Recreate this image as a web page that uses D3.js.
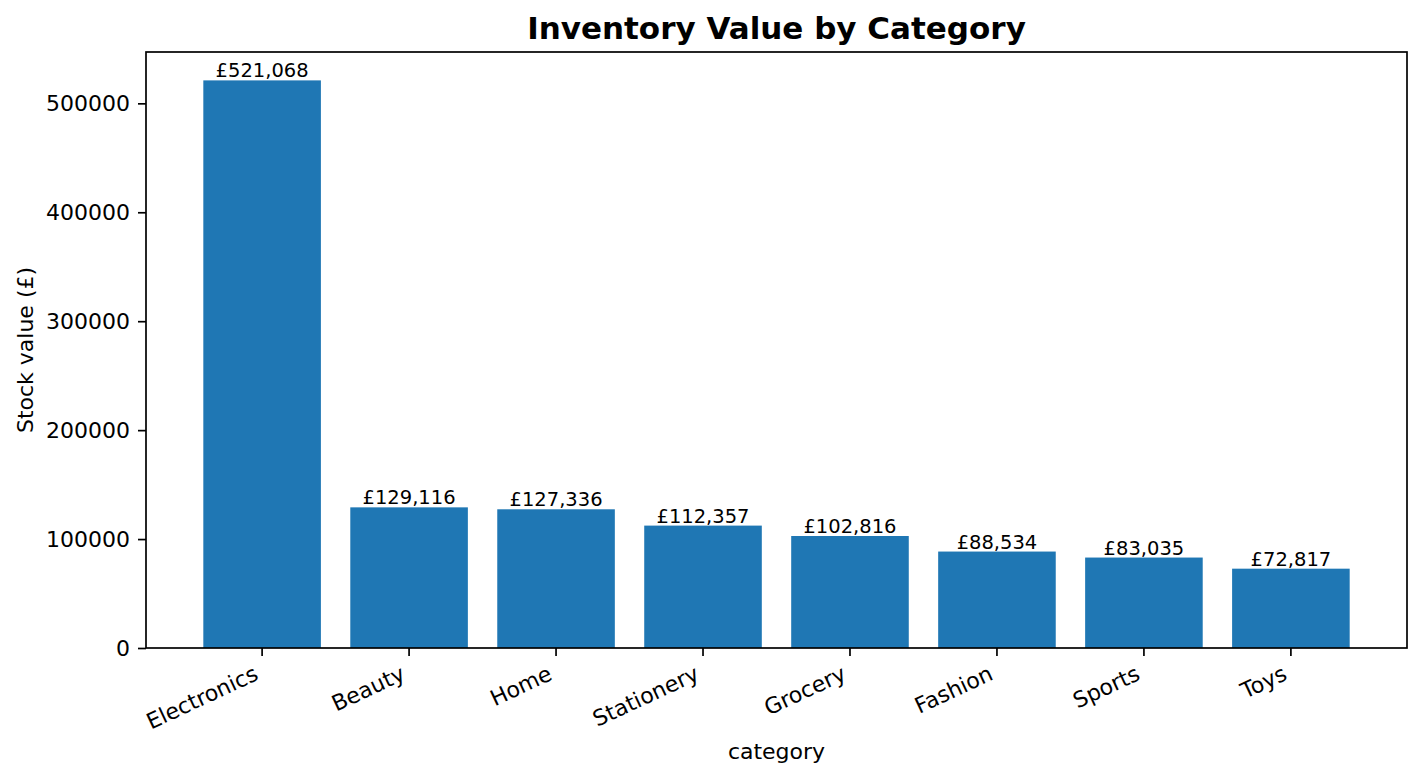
<!DOCTYPE html>
<html>
<head>
<meta charset="utf-8">
<script src="https://cdn.jsdelivr.net/npm/d3@7"></script>
<style>
  body { margin: 0; background: #fff; }
  text { font-family: "DejaVu Sans", sans-serif; fill: #000; }
</style>
</head>
<body>
<div id="chart"></div>
<script>
var categories = ["Electronics", "Beauty", "Home", "Stationery", "Grocery", "Fashion", "Sports", "Toys"];
var stockValues = [521068, 129116, 127336, 112357, 102816, 88534, 83035, 72817];
var yTicks = [0, 100000, 200000, 300000, 400000, 500000];

var width = 1422, height = 778;
var margin = {top: 52, right: 15, bottom: 130, left: 146};
var plotW = width - margin.left - margin.right;
var plotH = height - margin.top - margin.bottom;

var svg = d3.select("#chart")
  .append("svg")
    .attr("width", width)
    .attr("height", height);

var g = svg.append("g")
    .attr("transform", "translate(" + margin.left + "," + margin.top + ")");

var x = d3.scaleBand()
    .domain(categories)
    .range([0, plotW])
    .paddingInner(0.2)
    .paddingOuter(0.39);

var y = d3.scaleLinear()
    .domain([0, d3.max(stockValues) * 1.05])
    .range([plotH, 0]);

var data = categories.map(function(c, i) { return {cat: c, value: stockValues[i]}; });

// bars
g.selectAll("rect.bar")
  .data(data)
  .enter().append("rect")
    .attr("class", "bar")
    .attr("x", function(d) { return x(d.cat); })
    .attr("y", function(d) { return y(d.value); })
    .attr("width", x.bandwidth())
    .attr("height", function(d) { return plotH - y(d.value); })
    .attr("fill", "#1f77b4");

// value labels
var fmt = d3.format(",");
g.selectAll("text.val")
  .data(data)
  .enter().append("text")
    .attr("class", "val")
    .attr("x", function(d) { return x(d.cat) + x.bandwidth() / 2; })
    .attr("y", function(d) { return y(d.value) - 3; })
    .attr("text-anchor", "middle")
    .style("font-size", "19.5px")
    .text(function(d) { return "£" + fmt(d.value); });

// y axis
var yAxis = g.append("g")
    .call(d3.axisLeft(y).tickValues(yTicks).tickFormat(d3.format("d")).tickSize(8).tickPadding(8));
yAxis.select(".domain").remove();
yAxis.selectAll("line").attr("stroke", "#000").attr("stroke-width", 1.7);
yAxis.selectAll("text").style("font-size", "22px").attr("font-family", null);

// x axis
var xAxis = g.append("g")
    .attr("transform", "translate(0," + plotH + ")")
    .call(d3.axisBottom(x).tickSize(8).tickPadding(6));
xAxis.select(".domain").remove();
xAxis.selectAll("line").attr("stroke", "#000").attr("stroke-width", 1.7);
xAxis.selectAll("text")
    .style("font-size", "22px")
    .attr("font-family", null)
    .attr("text-anchor", "end")
    .attr("dy", "0.7em")
    .attr("transform", "translate(-9,17) rotate(-25)")
    .attr("y", 0)
    .attr("x", 0);

// frame
g.append("rect")
    .attr("width", plotW)
    .attr("height", plotH)
    .attr("fill", "none")
    .attr("stroke", "#000")
    .attr("stroke-width", 1.7);

// title
svg.append("text")
    .attr("x", margin.left + plotW / 2)
    .attr("y", 39)
    .attr("text-anchor", "middle")
    .style("font-size", "31px")
    .style("font-weight", "bold")
    .text("Inventory Value by Category");

// axis labels
svg.append("text")
    .attr("x", margin.left + plotW / 2)
    .attr("y", 759)
    .attr("text-anchor", "middle")
    .style("font-size", "22px")
    .text("category");

svg.append("text")
    .attr("transform", "translate(33," + (margin.top + plotH / 2) + ") rotate(-90)")
    .attr("text-anchor", "middle")
    .style("font-size", "22px")
    .text("Stock value (£)");
</script>
</body>
</html>
